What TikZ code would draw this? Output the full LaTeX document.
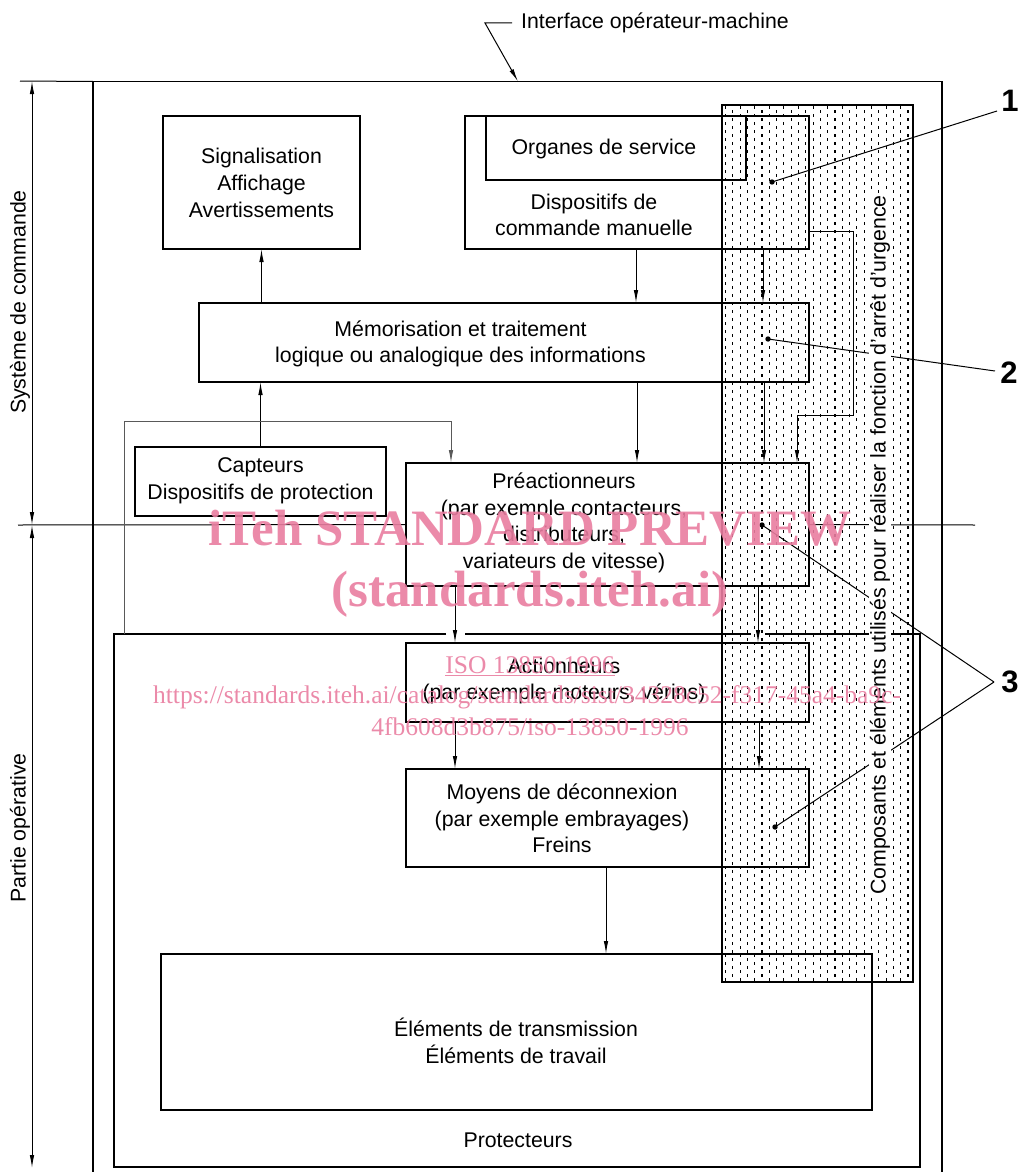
\documentclass[tikz,border=0pt]{standalone}
\usepackage{fontspec}
\setmainfont{Liberation Sans}
\newfontfamily\wmfont{Liberation Serif}
\usetikzlibrary{arrows.meta,calc}
\definecolor{wmpink}{RGB}{233,125,160}
\begin{document}
\begin{tikzpicture}[x=1pt,y=-1pt,
 box/.style={draw, line width=1.8pt, inner sep=0pt, outer sep=0pt},
 txt/.style={font=\fontsize{21.3}{26.7}\selectfont, align=center, inner sep=0pt},
 arr/.style={line width=1pt, -{Latex[length=13pt,width=4.5pt]}},
 dimarr/.style={line width=1pt, {Latex[length=13pt,width=4.5pt]}-{Latex[length=13pt,width=4.5pt]}},
 ln/.style={line width=1pt},
 fb/.style={line width=1pt, draw=black!65},
 lbl/.style={font=\fontsize{31}{31}\selectfont\bfseries, inner sep=0pt},
 wm/.style={font=\wmfont\fontsize{25.5}{25.5}\selectfont, text=wmpink, inner sep=0pt, anchor=base},
 wmbig/.style={font=\wmfont\bfseries\fontsize{51}{51}\selectfont, text=wmpink, inner sep=0pt, anchor=base},
]
\useasboundingbox (0,0) rectangle (1020,1172);
\clip (0,0) rectangle (1020,1172);

% ---- dotted strip pattern
\node[inner sep=0pt, outer sep=0pt, minimum width=191, minimum height=877] (strip) at (817.5,543.5) {};
\begin{scope}
\clip (strip.north west) rectangle (strip.south east);
\foreach \i in {0,...,25} {
  \pgfmathsetmacro{\yo}{mod(\i,2)*4}
  \draw[line width=1.1pt, dash pattern=on 3pt off 5pt] (725.5+7.3*\i,106+\yo) -- (725.5+7.3*\i,982);
}
\end{scope}
\draw[line width=1.8pt] (strip.north west) rectangle (strip.south east);

% ---- boxes
\node[box, minimum width=849, minimum height=1120] (outer) at (517.5,641.5) {};
\node[box, minimum width=197, minimum height=133] (sig) at (261.5,182.5) {};
\node[box, minimum width=344, minimum height=133] (disp) at (637,182.5) {};
\node[box, minimum width=260, minimum height=64] (org) at (616,148) {};
\node[box, minimum width=610, minimum height=79] (mem) at (504,342.5) {};
\node[box, minimum width=251, minimum height=69] (capt) at (260.5,481.5) {};
\node[box, minimum width=403, minimum height=123] (pre) at (607.5,524.5) {};
\node[box, minimum width=403, minimum height=79] (act) at (607.5,682.5) {};
\node[box, minimum width=403, minimum height=98] (moy) at (607.5,818) {};
\node[box, minimum width=711, minimum height=156] (elem) at (516.5,1032) {};
\node[inner sep=0pt, outer sep=0pt, minimum width=806, minimum height=533] (prot) at (517,900.5) {};
\draw[line width=1.2pt] (prot.north west -| 446,0) -- (prot.north west) -- (prot.south west) -- (prot.south east) -- (prot.north east) -- (prot.north east -| 765,0);
\draw[line width=1.2pt] (prot.north west -| 465,0) -- (prot.north west -| 751,0);

% ---- texts
\node[txt] (sigt) at (261.5,183) {Signalisation\\Affichage\\Avertissements};
\node[txt] (orgt) at (604,149) {Organes de service};
\node[txt] (dispt) at (594,215) {Dispositifs de\\commande manuelle};
\node[txt] (memt) at (460.5,344) {Mémorisation et traitement\\logique ou analogique des informations};
\node[txt] (captt) at (260.5,481) {Capteurs\\Dispositifs de protection};
\node[txt] (pret) at (564,523) {Préactionneurs\\(par exemple contacteurs,\\distributeurs,\\variateurs de vitesse)};
\node[txt] (actt) at (564,681) {Actionneurs\\(par exemple moteurs, vérins)};
\node[txt] (moyt) at (562,818.5) {Moyens de déconnexion\\(par exemple embrayages)\\Freins};
\node[txt] (elemt) at (516,1041) {Éléments de transmission\\Éléments de travail};
\node[txt] (prott) at (518,1140) {Protecteurs};
\node[txt, anchor=west] (ift) at (521,23) {Interface opérateur-machine};
\node[txt, rotate=90] (syst) at (20,302) {Système de commande};
\node[txt, rotate=90] (part) at (20,828) {Partie opérative};

% ---- dimension lines
\coordinate (dtop) at (32,81);
\coordinate (dmid) at (32,525);
\coordinate (dbot) at (32,1168);
\coordinate (topL) at (20,81);
\draw[ln] (topL) -- (outer.north west);
\draw[dimarr] (dtop) -- (dmid);
\draw[dimarr] (dmid) -- (dbot);
\coordinate (sepL) at (18,525);
\coordinate (sepR) at (975,525);
\draw[ln] (sepL) -- (pre.west);
\draw[ln] (pre.east) -- (sepR);

% ---- interface leader
\draw[arr] ([xshift=-9pt]ift.west) -- ++(-27,0) -- (outer.north -| 518,0);

% ---- connectors
\draw[arr] (mem.north -| sig.south) -- (sig.south);
\draw[arr] (disp.south -| 636,0) -- (mem.north -| 636,0);
\draw[arr] (disp.south -| 763,0) -- (mem.north -| 763,0);
\draw[arr] (mem.south -| 637,0) -- (pre.north -| 637,0);
\draw[arr] (mem.south -| 764,0) -- (pre.north -| 764,0);
\draw[arr] (capt.north) -- (mem.south -| capt.north);
\draw[arr] (pre.south -| 455,0) -- (act.north -| 455,0);
\draw[arr] (pre.south -| 758,0) -- (act.north -| 758,0);
\draw[arr] (act.south -| 455,0) -- (moy.north -| 455,0);
\draw[arr] (act.south -| 759,0) -- (moy.north -| 759,0);
\draw[arr] (moy.south -| 606,0) -- (elem.north -| 606,0);
\draw[arr] ([yshift=18pt]disp.south east) -- ++(44,0) -- ++(0,184) -- ++(-56,0) -- (pre.north -| 797,0);
\draw[fb, arr] (prot.north west -| 124,0) -- (124,421) -- (451,421) -- (pre.north -| 451,0);

% ---- leaders
\coordinate (d1) at (772,182);
\coordinate (d2) at (768,339);
\coordinate (d3a) at (762,525);
\coordinate (d3b) at (775,827);
\node[lbl] (l1) at (1010,101) {1};
\node[lbl] (l2) at (1009,373) {2};
\node[lbl] (l3) at (1010,682) {3};
\draw[ln] ([xshift=-13pt,yshift=-10pt]l1.center) -- (d1);
\draw[ln] ([xshift=-14pt,yshift=2pt]l2.center) -- (d2);
\draw[ln] ([xshift=-16pt]l3.center) -- (d3a);
\draw[ln] ([xshift=-16pt]l3.center) -- (d3b);
\foreach \p in {d1,d2,d3a,d3b} \fill (\p) circle (2.7);

% ---- vertical strip text
\node[txt, rotate=90, fill=white, inner xsep=2pt, inner ysep=0.5pt] (comp) at (880,545) {Composants et éléments utilisés pour réaliser la fonction d’arrêt d’urgence};

% ---- watermark
\begin{scope}[opacity=0.9]
\node[wmbig] (wm1) at (530,545) {iTeh STANDARD PREVIEW};
\node[wmbig] (wm2) at (530,606) {(standards.iteh.ai)};
\node[wm] (wm3) at (530,673) {\underline{ISO 13850:1996}};
\node[wm] (wm4) at (527,703) {https://standards.iteh.ai/catalog/standards/sist/34328c52-f317-45a4-ba9c-};
\node[wm] (wm5) at (530,735) {4fb608d3b875/iso-13850-1996};
\end{scope}
\end{tikzpicture}
\end{document}
